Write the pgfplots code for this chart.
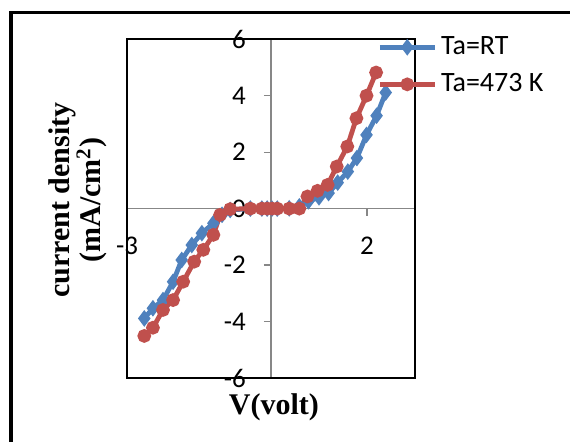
\documentclass[border=0pt]{standalone}
\usepackage{fontspec}
\setmainfont{Liberation Serif}
\newfontfamily\calibri{Carlito}
\usepackage{pgfplots}
\pgfplotsset{compat=1.18}
\definecolor{exblue}{HTML}{4F81BD}
\definecolor{exred}{HTML}{C0504D}
\definecolor{axgray}{HTML}{878787}
\begin{document}
\begin{tikzpicture}
\begin{axis}[
  at={(63.5pt,31.5pt)}, anchor=south west,
  scale only axis, width=144pt, height=169.4pt,
  xmin=-3, xmax=3, ymin=-6, ymax=6,
  axis lines=middle,
  axis line style={-, axgray, line width=0.7pt},
  xtick={-3,2}, ytick={-6,-4,-2,0,2,4,6},
  hide obscured x ticks=false, hide obscured y ticks=false,
  tick align=outside,
  major tick length=3.5pt,
  tick style={axgray, line width=0.6pt},
  /pgf/number format/assume math mode=true,
  ticklabel style={font=\calibri\fontsize{13.5}{15}\selectfont},
  yticklabel style={anchor=east, xshift=-5.5pt},
  xticklabel style={anchor=north, yshift=-7pt},
  xlabel={V(volt)},
  ylabel={current density\\(mA/cm$^{\mathbf{2}}$)},
  label style={font=\bfseries\fontsize{15}{15.5}\selectfont},
  xlabel style={at={(rel axis cs:0.51,-0.109)}, anchor=base},
  ylabel style={at={(rel axis cs:-0.17,0.525)}, anchor=center, rotate=90, align=center},
  legend style={at={(rel axis cs:0.868,1.02)}, anchor=north west, draw=none, fill=none,
    font=\calibri\fontsize{14}{16}\selectfont, row sep=4pt, inner sep=0pt},
  legend cell align=left,
  legend image code/.code={\draw[mark repeat=2,mark phase=2,#1] plot coordinates {(0pt,0pt) (13.75pt,0pt) (27.5pt,0pt)};},
  clip=false,
]
\addplot[exblue, line width=2.4pt, mark=diamond*, mark size=2.2pt, mark options={solid}] coordinates {
(-2.64,-3.89) (-2.46,-3.53) (-2.25,-3.24) (-2.04,-2.59) (-1.86,-1.82) (-1.65,-1.29)
(-1.44,-0.87) (-1.20,-0.52) (-1.02,-0.22) (-0.85,-0.05) (-0.43,0.00) (-0.19,0.00)
(-0.08,0.00) (0.02,0.00) (0.13,0.00) (0.38,0.01) (0.59,0.08) (0.78,0.26) (1.00,0.40)
(1.20,0.55) (1.39,0.92) (1.60,1.31) (1.79,1.79) (1.99,2.61) (2.20,3.29) (2.39,4.11)};
\addlegendentry{Ta=RT}
\addplot[exred, line width=2.4pt, mark=*, mark size=2.2pt, mark options={solid}] coordinates {
(-2.64,-4.51) (-2.46,-4.22) (-2.25,-3.59) (-2.04,-3.24) (-1.83,-2.59) (-1.60,-1.88)
(-1.41,-1.46) (-1.20,-0.93) (-1.06,-0.22) (-0.85,-0.02) (-0.43,0.00) (-0.19,0.00)
(-0.08,0.00) (0.02,0.00) (0.13,0.00) (0.38,0.00) (0.59,0.00) (0.76,0.43) (0.97,0.63)
(1.18,0.84) (1.37,1.49) (1.59,2.20) (1.78,3.20) (1.99,4.00) (2.19,4.82)};
\addlegendentry{Ta=473 K}
\draw[black, line width=1.2pt] (rel axis cs:0,0) rectangle (rel axis cs:1,1);
\end{axis}
\draw[black, line width=1.6pt] (5.5pt,-20pt) -- (5.5pt,214.15pt) -- (320pt,214.15pt);
\pgfresetboundingbox
\useasboundingbox (0pt,0pt) rectangle (285pt,220.5pt);
\end{tikzpicture}
\end{document}
